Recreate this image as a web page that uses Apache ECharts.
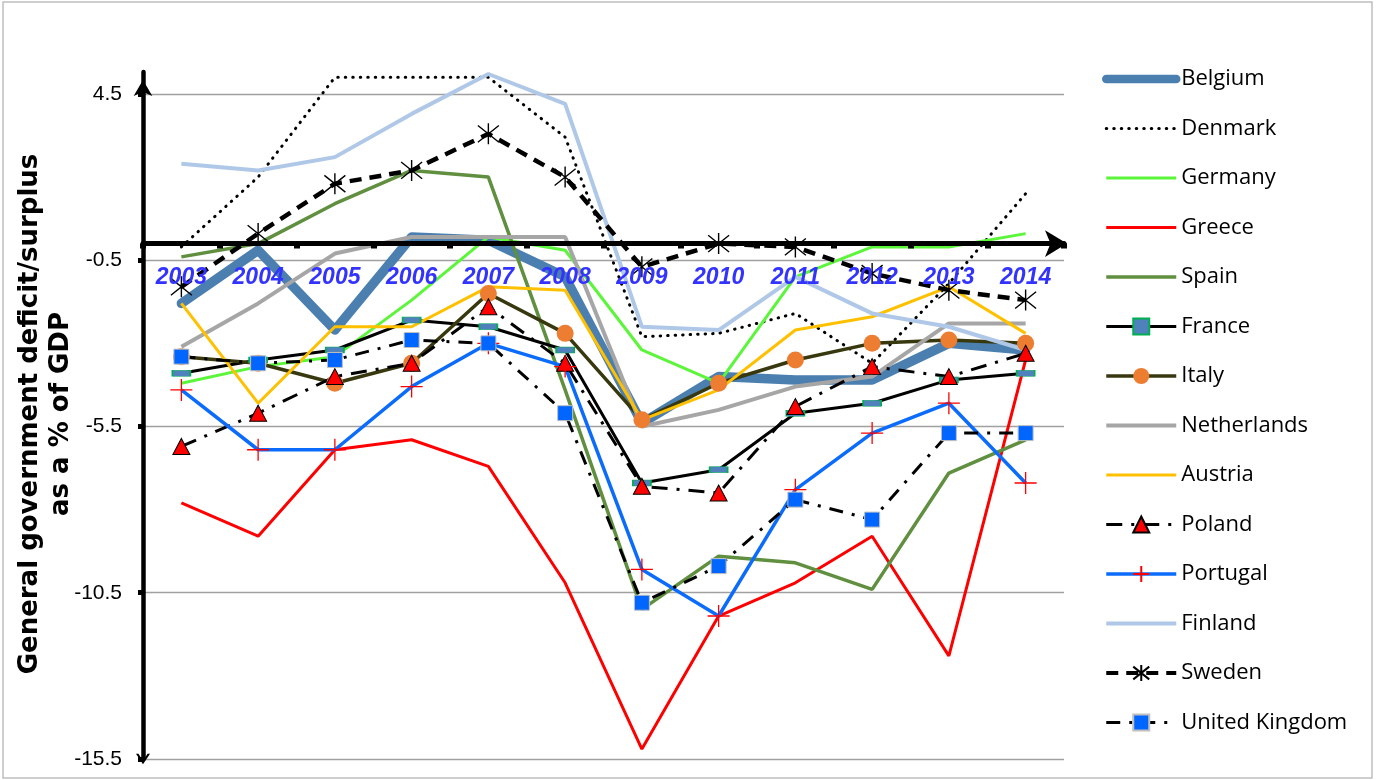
<!DOCTYPE html>
<html>
<head>
<meta charset="utf-8">
<script src="https://cdn.jsdelivr.net/npm/echarts@6/dist/echarts.min.js"></script>
<style>html,body{margin:0;padding:0;background:#fff;}#c{width:1382px;height:780px;}</style>
</head>
<body>
<div id="c"></div>
<script>
const years = ['2003','2004','2005','2006','2007','2008','2009','2010','2011','2012','2013','2014'];
const yTicks = [-15.5, -10.5, -5.5, -0.5, 4.5];
const belgium     = [-1.8,-0.2,-2.6, 0.2, 0.1,-1.0,-5.4,-4.0,-4.1,-4.1,-3.0,-3.2];
const denmark     = [-0.1, 2.0, 5.0, 5.0, 5.0, 3.2,-2.8,-2.7,-2.1,-3.6,-1.2, 1.5];
const germany     = [-4.2,-3.7,-3.4,-1.7, 0.2,-0.2,-3.2,-4.2,-1.0,-0.1,-0.1, 0.3];
const greece      = [-7.8,-8.8,-6.2,-5.9,-6.7,-10.2,-15.2,-11.2,-10.2,-8.8,-12.4,-3.5];
const spain       = [-0.4, 0.0, 1.2, 2.2, 2.0,-4.4,-11.0,-9.4,-9.6,-10.4,-6.9,-5.9];
const france      = [-3.9,-3.5,-3.2,-2.3,-2.5,-3.2,-7.2,-6.8,-5.1,-4.8,-4.1,-3.9];
const italy       = [-3.4,-3.6,-4.2,-3.6,-1.5,-2.7,-5.3,-4.2,-3.5,-3.0,-2.9,-3.0];
const netherlands = [-3.1,-1.8,-0.3, 0.2, 0.2, 0.2,-5.5,-5.0,-4.3,-4.0,-2.4,-2.4];
const austria     = [-1.8,-4.8,-2.5,-2.5,-1.3,-1.4,-5.3,-4.4,-2.6,-2.2,-1.3,-2.7];
const poland      = [-6.1,-5.1,-4.0,-3.6,-1.9,-3.6,-7.3,-7.5,-4.9,-3.7,-4.0,-3.3];
const portugal    = [-4.4,-6.2,-6.2,-4.3,-3.0,-3.7,-9.8,-11.2,-7.4,-5.7,-4.8,-7.2];
const finland     = [ 2.4, 2.2, 2.6, 3.9, 5.1, 4.2,-2.5,-2.6,-1.0,-2.1,-2.5,-3.2];
const sweden      = [-1.3, 0.3, 1.8, 2.2, 3.3, 2.0,-0.7, 0.0,-0.1,-0.9,-1.4,-1.7];
const uk          = [-3.4,-3.6,-3.5,-2.9,-3.0,-5.1,-10.8,-9.7,-7.7,-8.3,-5.7,-5.7];

const chevron = 'path://M10,0 L20,15 L16.5,15 L10,5 L3.5,15 L0,15 Z';
const asterisk = 'path://M10,0 L10,20 M3,2 L17,18 M17,2 L3,18';
const plus = 'path://M0,10 L20,10 M10,0 L10,20';

function line(name, data, color, width, extra) {
  return Object.assign({
    name: name, type: 'line', data: data, symbol: 'none', clip: false,
    lineStyle: { color: color, width: width },
    itemStyle: { color: color },
    emphasis: { disabled: true }, animation: false
  }, extra || {});
}

const series = [
  line('Belgium', belgium, '#4a7fb0', 9.5, { lineStyle: { color: '#4a7fb0', width: 9.5, join: 'round', cap: 'round' } }),
  line('Denmark', denmark, '#000', 3, { lineStyle: { color: '#000', width: 3, type: [0.5, 7], cap: 'round' } }),
  line('Germany', germany, '#5bf53a', 3),
  line('Greece', greece, '#ff0000', 3),
  line('Spain', spain, '#5f8f3f', 3.5),
  line('France', france, '#000', 3, {
    symbol: 'rect', symbolSize: [18, 6],
    itemStyle: { color: '#4f81bd', borderColor: '#00b050', borderWidth: 1 } }),
  line('Italy', italy, '#38380f', 3.5, {
    symbol: 'circle', symbolSize: 17,
    itemStyle: { color: '#ed7d31', borderWidth: 0 } }),
  line('Netherlands', netherlands, '#a6a6a6', 4),
  line('Austria', austria, '#ffc000', 3),
  line('Poland', poland, '#000', 3, {
    lineStyle: { color: '#000', width: 3, type: [16, 9, 3, 9] },
    symbol: 'triangle', symbolSize: [17, 16],
    itemStyle: { color: '#ff0000', borderColor: '#000', borderWidth: 1 } }),
  line('Portugal', portugal, '#0b6cfb', 3.5, {
    symbol: plus, symbolSize: 22,
    itemStyle: { color: 'none', borderColor: '#ff0000', borderWidth: 1.3 } }),
  line('Finland', finland, '#b0c8e8', 4),
  line('Sweden', sweden, '#000', 4.5, {
    lineStyle: { color: '#000', width: 4.5, type: [12, 8] },
    symbol: asterisk, symbolSize: 21,
    itemStyle: { color: 'none', borderColor: '#000', borderWidth: 1.4 } }),
  line('United Kingdom', uk, '#000', 3, {
    lineStyle: { color: '#000', width: 3, type: [14, 9, 3, 9] },
    symbol: 'rect', symbolSize: 15,
    itemStyle: { color: '#0066ff', borderColor: '#c0c0c0', borderWidth: 1 } })
];

const legendData = series.map(s => {
  const item = { name: s.name, lineStyle: Object.assign({}, s.lineStyle, { width: s.name === 'Belgium' ? 8.5 : Math.min(s.lineStyle.width, 4) }) };
  if (s.symbol === 'none') item.itemStyle = { opacity: 0 };
  return item;
});

const chart = echarts.init(document.getElementById('c'), null, { renderer: 'canvas' });
chart.setOption({
  animation: false,
  backgroundColor: '#fff',
  grid: { left: 143, right: 318, top: 72, bottom: 21, containLabel: false, outerBoundsMode: 'none' },
  xAxis: {
    type: 'category', data: years, boundaryGap: true, position: 'bottom', offset: 0, zlevel: 1,
    axisLine: { onZero: false, lineStyle: { color: '#000', width: 5 },
      symbol: ['none', 'arrow'], symbolSize: [20, 22], symbolOffset: [0, 3] },
    axisTick: { show: true, length: 5, lineStyle: { color: '#000', width: 6 } },
    axisLabel: { color: '#3333ff', fontWeight: 'bold', fontStyle: 'italic', fontSize: 23,
      fontFamily: 'Liberation Sans', margin: 23 },
    splitLine: { show: false }
  },
  yAxis: {
    type: 'value', min: -15.5, max: 5.16,
    axisLine: { show: true, lineStyle: { color: '#000', width: 4.5 },
      symbol: [chevron, 'arrow'], symbolSize: [14, 16], symbolOffset: [0, -8] },
    axisTick: { show: true, customValues: yTicks, length: 5, lineStyle: { color: '#000', width: 5 } },
    axisLabel: { customValues: yTicks, color: '#000', fontSize: 21,
      fontFamily: "'Liberation Sans Narrow', 'Liberation Sans'", margin: 21 },
    splitLine: { show: true, lineStyle: { color: '#a0a0a0', width: 1.3 } }
  },
  legend: {
    orient: 'vertical', left: 1097, top: 62,
    itemWidth: 70, itemHeight: 20, itemGap: 25.5,
    textStyle: { fontSize: 22, fontFamily: 'Open Sans', color: '#000', lineHeight: 24 },
    data: legendData
  },
  graphic: [
    { type: 'rect', shape: { x: 3, y: 2, width: 1369, height: 776 },
      style: { fill: 'none', stroke: '#bfbfbf', lineWidth: 1.5 }, silent: true, z: -10 },
    { type: 'text', x: 46, y: 414, rotation: Math.PI / 2,
      style: { text: 'General government deficit/surplus\nas a % of GDP', x: 0, y: 0,
        align: 'center', verticalAlign: 'middle', fontSize: 26, fontWeight: 'bold',
        fontFamily: 'DejaVu Sans', fill: '#000', lineHeight: 31 } }
  ],
  series: series
});

// place the category axis on the value 0 of the y scale
const yZero = chart.convertToPixel({ yAxisIndex: 0 }, 0);
const yBottom = chart.convertToPixel({ yAxisIndex: 0 }, -15.5);
chart.setOption({ xAxis: { offset: yZero - yBottom } });
</script>
</body>
</html>
